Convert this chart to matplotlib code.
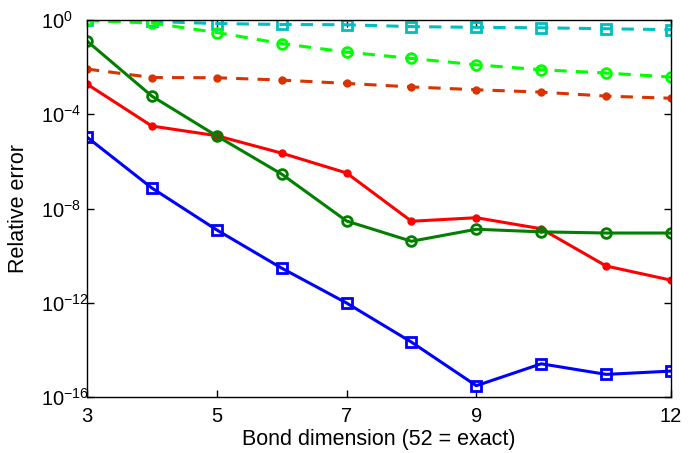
import matplotlib
matplotlib.use("Agg")
import matplotlib.pyplot as plt
import numpy as np

plt.rcParams["font.family"] = ["Liberation Sans", "DejaVu Sans"]
plt.rcParams["mathtext.fontset"] = "custom"
plt.rcParams["mathtext.rm"] = "Liberation Sans"

bond_dim = [3, 4, 5, 6, 7, 8, 9, 10, 11, 12]

# log10 of the relative error
cyan_dash = [-0.02, -0.06, -0.15, -0.19, -0.20, -0.28, -0.31, -0.33, -0.37, -0.41]
lime_dash = [-0.02, -0.13, -0.53, -1.00, -1.36, -1.63, -1.90, -2.11, -2.25, -2.42]
orange_dash = [-2.08, -2.44, -2.45, -2.55, -2.69, -2.84, -2.96, -3.06, -3.23, -3.32]
red_solid = [-2.72, -4.50, -4.91, -5.65, -6.49, -8.54, -8.39, -8.86, -10.44, -11.04]
green_solid = [-0.89, -3.23, -4.92, -6.54, -8.53, -9.39, -8.88, -8.99, -9.04, -9.04]
blue_solid = [-4.97, -7.13, -8.91, -10.53, -12.01, -13.67, -15.52, -14.59, -15.04, -14.90]

x_ticks = [3, 5, 7, 9, 12]
y_ticks = [1e0, 1e-4, 1e-8, 1e-12, 1e-16]

fig = plt.figure(figsize=(6.97, 4.53), dpi=100)
ax = fig.add_axes([0.1248, 0.1236, 0.8379, 0.8322])

lw = 2.2
ax.plot(bond_dim, 10 ** np.array(cyan_dash), "--s", color="#00bfbf", lw=lw,
        ms=7, mfc="none", mew=2, dashes=(4, 3))
ax.plot(bond_dim, 10 ** np.array(lime_dash), "--o", color="#00ff00", lw=lw,
        ms=7, mfc="none", mew=2, dashes=(4, 3))
ax.plot(bond_dim, 10 ** np.array(orange_dash), "--o", color="#d93300", lw=lw,
        ms=5, mew=1, dashes=(4, 3))
ax.plot(bond_dim, 10 ** np.array(red_solid), "-o", color="#ff0000", lw=lw,
        ms=5, mew=1)
ax.plot(bond_dim, 10 ** np.array(green_solid), "-o", color="#007f00", lw=lw,
        ms=7, mfc="none", mew=2)
ax.plot(bond_dim, 10 ** np.array(blue_solid), "-s", color="#0000ff", lw=lw,
        ms=7, mfc="none", mew=2)

ax.set_yscale("log")
ax.set_xlim(3, 12)
ax.set_ylim(1e-16, 1)
ax.set_xticks(x_ticks)
ax.set_xticklabels([str(t) for t in x_ticks])
ax.set_yticks(y_ticks)
ax.set_yticklabels([r"$\mathregular{10^{%d}}$" % int(np.log10(t)) for t in y_ticks])
ax.minorticks_off()
ax.tick_params(direction="in", length=5, width=1, top=True, right=True,
               labelsize=14.5)
ax.tick_params(axis="x", pad=7)
# base "10" of the y labels sits at a fixed left edge, as in the source
ax.tick_params(axis="y", pad=33)
for lab in ax.get_yticklabels():
    lab.set_horizontalalignment("left")
for s in ax.spines.values():
    s.set_linewidth(1)

ax.set_xlabel("Bond dimension (52 = exact)", fontsize=15.5, labelpad=2)
ax.set_ylabel("Relative error", fontsize=15.5, labelpad=9)

fig.savefig("out.png", dpi=100)
